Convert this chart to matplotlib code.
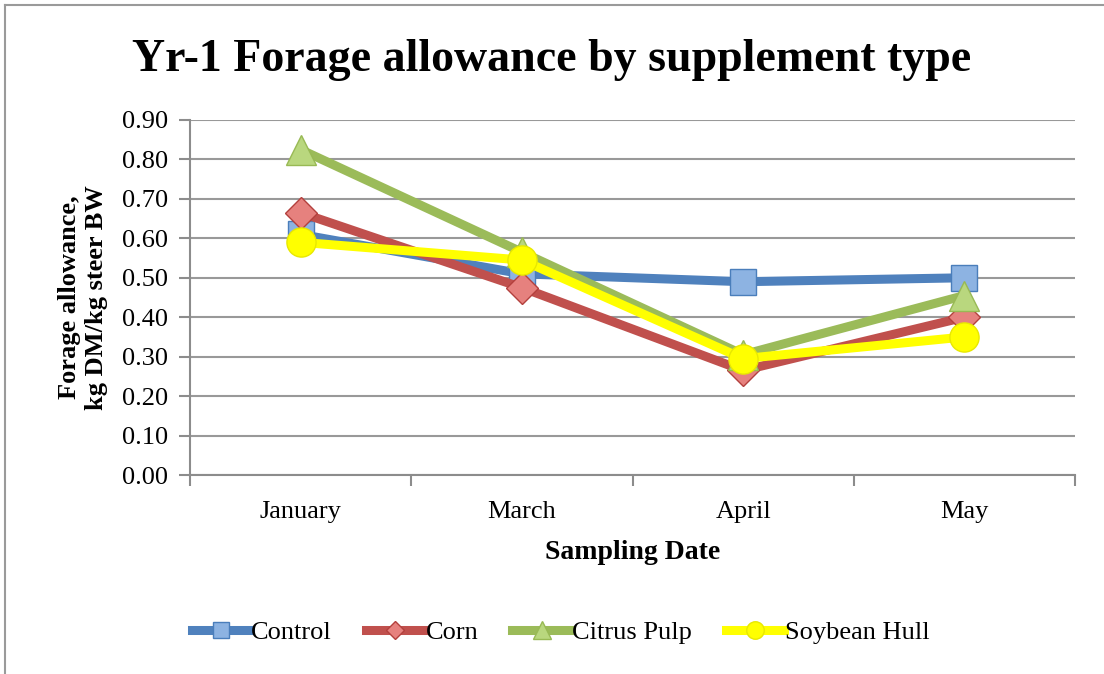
import numpy as np
import matplotlib
matplotlib.use("Agg")
from matplotlib import pyplot as plt
from matplotlib.lines import Line2D

months = ["January", "March", "April", "May"]
control = [0.61, 0.51, 0.49, 0.50]
corn = [0.665, 0.475, 0.265, 0.40]
citrus_pulp = [0.825, 0.565, 0.305, 0.455]
soybean_hull = [0.59, 0.545, 0.295, 0.35]
y_ticks = [0.0, 0.1, 0.2, 0.3, 0.4, 0.5, 0.6, 0.7, 0.8, 0.9]

serif = "Liberation Serif"
grey = "#8c8c8c"

fig = plt.figure(figsize=(11.04, 6.74), dpi=100)
ax = fig.add_axes([190 / 1104, 1 - 475 / 674, 885 / 1104, 355 / 674])

x = np.arange(len(months))

# series: (label, values, line colour, marker, face, edge, size)
series = [
    ("Control", control, "#4F81BD", "s", "#8DB3E2", "#4A7EBB", 19),
    ("Corn", corn, "#C0504D", "D", "#E6817E", "#B3403D", 16),
    ("Citrus Pulp", citrus_pulp, "#9BBB59", "^", "#B9D77E", "#98B954", 21),
    ("Soybean Hull", soybean_hull, "#FFFF00", "o", "#FFFF00", "#E8E800", 21),
]

for name, vals, col, mk, face, edge, ms in series:
    ax.plot(x, vals, color=col, linewidth=6.5, marker=mk, markersize=ms,
            markerfacecolor=face, markeredgecolor=edge, markeredgewidth=1,
            solid_joinstyle="round", label=name, zorder=3)

ax.set_xlim(-0.5, 3.5)
ax.set_ylim(0, 0.9)
ax.set_yticks(y_ticks)
ax.set_yticklabels(["%.2f" % v for v in y_ticks], fontfamily=serif, fontsize=19)
ax.set_xticks(x)
ax.set_xticklabels(months, fontfamily=serif, fontsize=19)
ax.set_xticks(np.arange(-0.5, 4, 1), minor=True)
ax.tick_params(axis="x", which="major", length=0, pad=19)
ax.tick_params(axis="x", which="minor", length=8, width=1.5, color=grey, direction="out")
ax.tick_params(axis="y", length=8, width=1.5, color=grey, direction="out", pad=8)

ax.grid(axis="y", color="#999999", linewidth=1.5, zorder=0)
ax.set_axisbelow(True)
for s in ["top", "right"]:
    ax.spines[s].set_visible(False)
for s in ["left", "bottom"]:
    ax.spines[s].set_color(grey)
    ax.spines[s].set_linewidth(1.5)

ax.set_xlabel("Sampling Date", fontfamily=serif, fontsize=20, fontweight="bold", labelpad=12)
ax.set_ylabel("Forage allowance,\nkg DM/kg steer BW", fontfamily=serif, fontsize=19,
              fontweight="bold", linespacing=1.2)
ax.yaxis.set_label_coords(-0.093, 0.5)

fig.text(0.5, 1 - 60 / 674, "Yr-1 Forage allowance by supplement type",
         ha="center", va="center", fontfamily=serif, fontsize=33, fontweight="bold")

fig.legend(loc="center", bbox_to_anchor=(0.508, 1 - 632 / 674), ncol=4, frameon=False,
           prop={"family": serif, "size": 19},
           handlelength=2.2, handletextpad=0.05, columnspacing=1.3, markerscale=0.6)

# chart frame (left and top edges visible)
fig.add_artist(Line2D([5 / 1104, 5 / 1104], [0, 1 - 5 / 674], color="#9a9a9a", linewidth=1.5))
fig.add_artist(Line2D([5 / 1104, 1], [1 - 5 / 674, 1 - 5 / 674], color="#9a9a9a", linewidth=1.5))

plt.savefig("out.png", dpi=100)
